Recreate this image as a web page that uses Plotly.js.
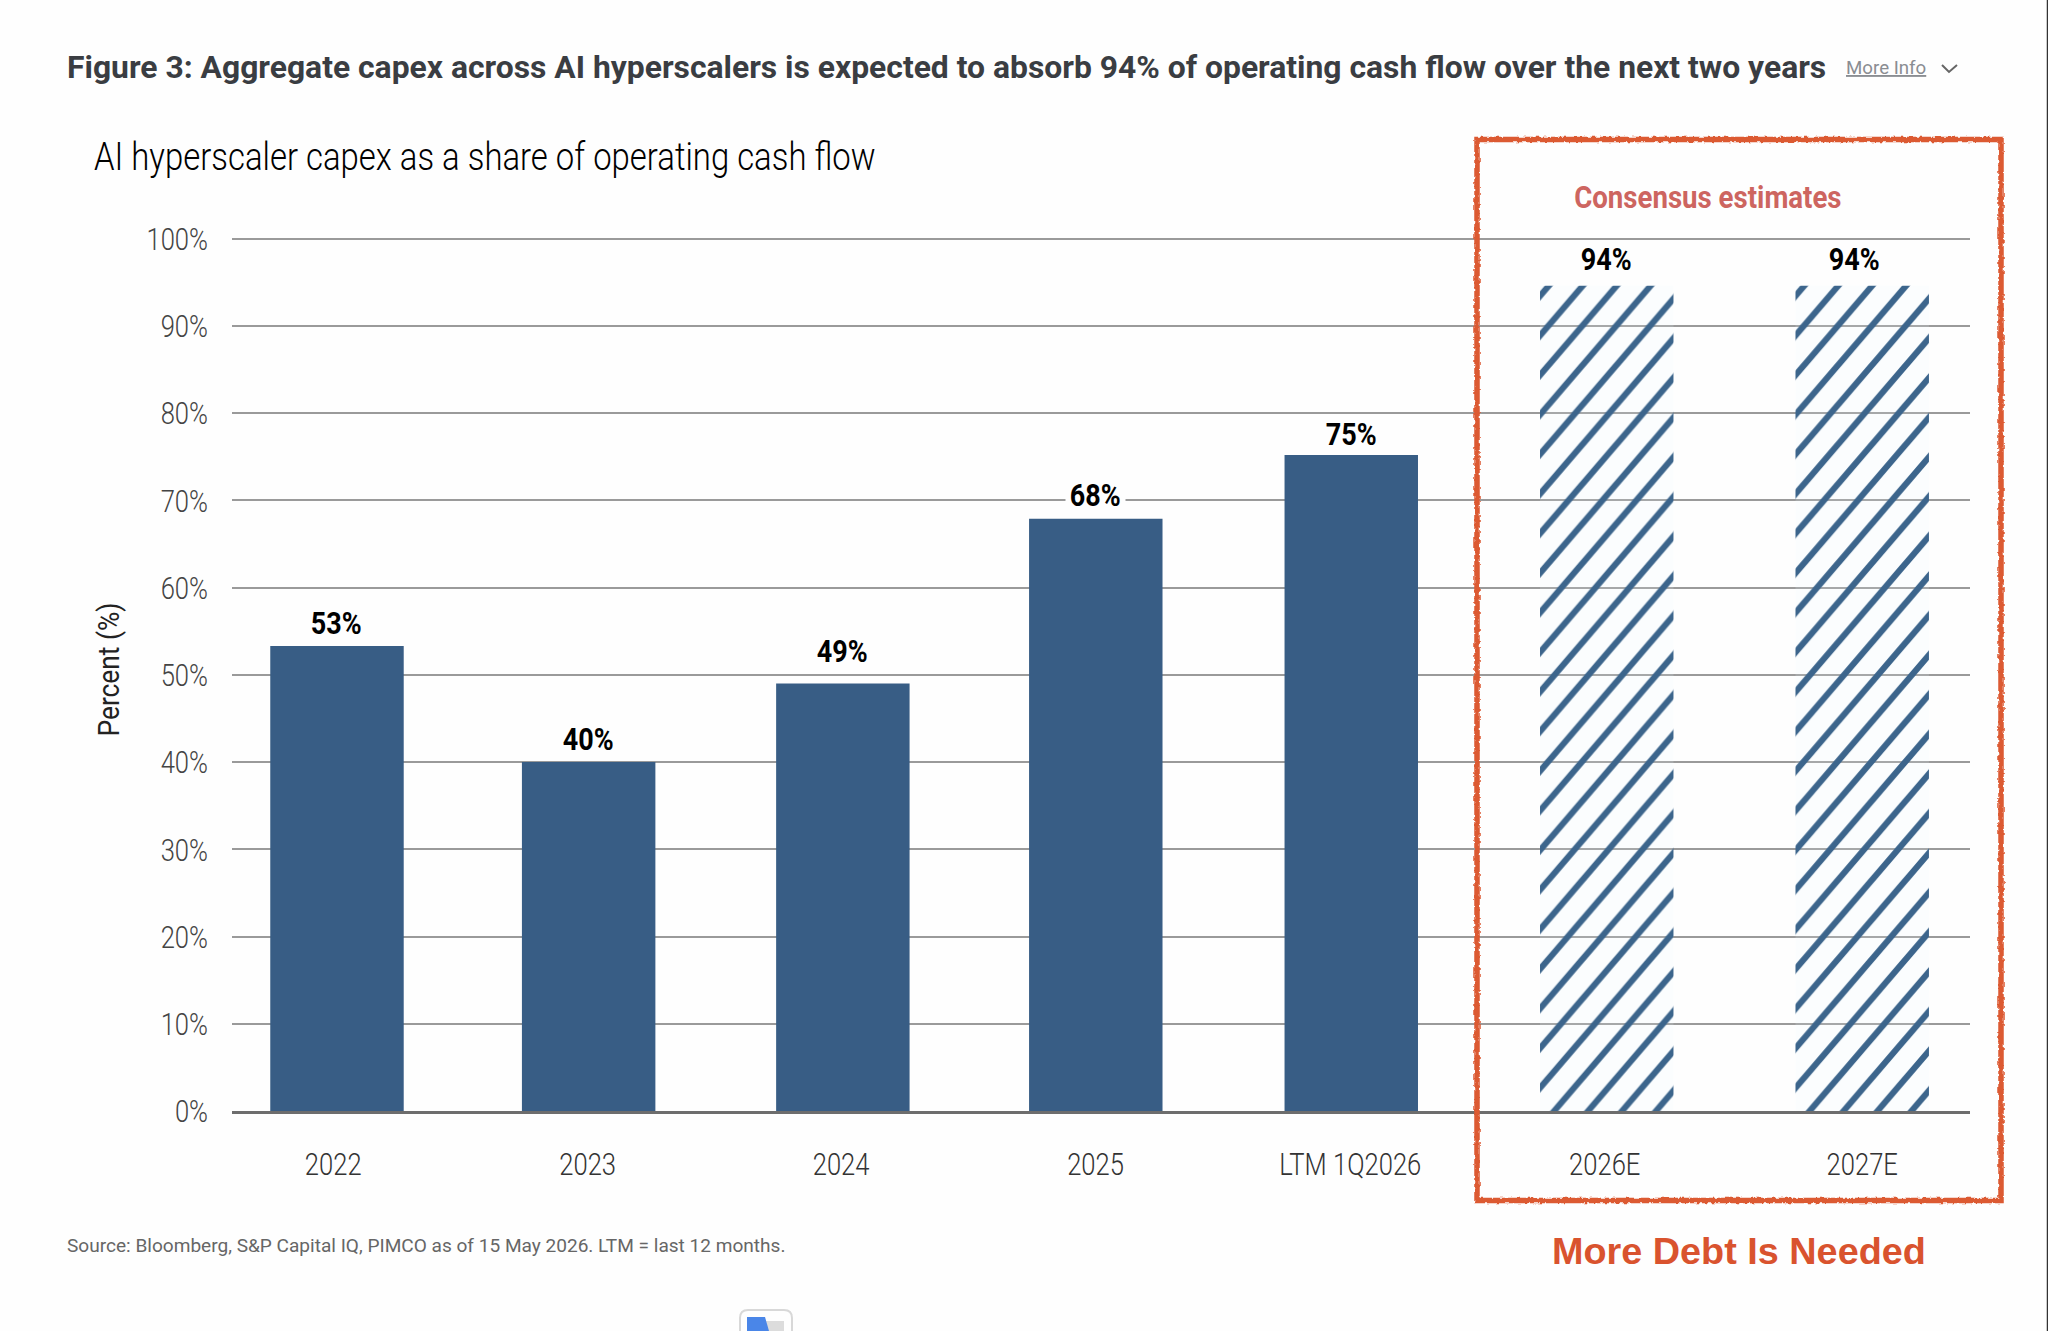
<!DOCTYPE html>
<html>
<head>
<meta charset="utf-8">
<script src="https://cdn.plot.ly/plotly-3.0.1.min.js"></script>
<style>
  html, body { margin: 0; padding: 0; background: #fefefe; }
</style>
</head>
<body>
<div id="chart" style="width:2048px;height:1331px"></div>
<script>
const categories = ['2022', '2023', '2024', '2025', 'LTM 1Q2026', '2026E', '2027E'];
const capexShare = [53.3, 40, 49, 67.9, 75.2, 94.6, 94.6];
const barLabels  = ['53%', '40%', '49%', '68%', '75%', '94%', '94%'];
const hatchShape = ['', '', '', '', '', '/', '/'];
const yTicks     = [0, 10, 20, 30, 40, 50, 60, 70, 80, 90, 100];
const yTickText  = ['0%', '10%', '20%', '30%', '40%', '50%', '60%', '70%', '80%', '90%', '100%'];

// the source slide is hand placed, so bars and labels are not quite evenly spaced
const barNudge    = [0, -0.01, -0.01, -0.015, -0.01, -0.005, 0];
const tickNudge   = [-0.015, -0.014, -0.017, -0.016, -0.014, -0.013, 0];
const labelShiftX = [0, 0, 0, 0, 0, 0, -8];
const labelShiftY = [3, 3, 13, 4, 1, 7, 7];

const W = 2048, H = 1331;
const plot = { l: 232, r: 1970, t: 237, b: 1111 };
const BAR_WIDTH = 0.525;

// page pixels -> paper coords, for everything outside the plot area
const px = x => (x - plot.l) / (plot.r - plot.l);
const py = y => (plot.b - y) / (plot.b - plot.t);

function note(x, y, text, font, anchor) {
  return {
    xref: 'paper', yref: 'paper', x: px(x), y: py(y),
    text, showarrow: false, xanchor: anchor || 'left', yanchor: 'middle',
    font: { family: 'Roboto', ...font },
  };
}

const barNotes = categories.map((c, i) => ({
  x: i + barNudge[i], y: capexShare[i], xref: 'x', yref: 'y',
  text: '<b>' + barLabels[i] + '</b>', showarrow: false,
  xshift: labelShiftX[i], yshift: labelShiftY[i], yanchor: 'bottom',
  font: { family: 'Roboto', size: 31, color: '#000' },
  bgcolor: '#fefefe', borderpad: 0,
}));

const trace = {
  type: 'bar',
  x: categories.map((c, i) => i),
  y: capexShare,
  width: BAR_WIDTH,
  offset: barNudge.map(n => n - BAR_WIDTH / 2),
  marker: {
    color: '#385d85',
    line: { width: 0 },
    pattern: {
      shape: hatchShape,
      size: 26,
      solidity: 0.24,
      fgcolor: '#3c658c',
      bgcolor: 'rgba(235,245,250,0.15)',
      fillmode: 'replace',
    },
  },
  hoverinfo: 'skip',
};

const layout = {
  width: W, height: H,
  paper_bgcolor: '#fefefe',
  plot_bgcolor: 'rgba(0,0,0,0)',
  showlegend: false,
  margin: { l: plot.l, r: W - plot.r, t: plot.t, b: H - plot.b, pad: 0 },
  font: { family: 'Roboto', color: '#444' },
  xaxis: {
    range: [-0.413, 6.424],
    tickvals: categories.map((c, i) => i + tickNudge[i]),
    ticktext: categories,
    tickfont: { family: 'Roboto', size: 32, weight: 300, color: '#333' },
    ticklabelstandoff: 23,
    ticks: '',
    showgrid: false,
    showline: true, linecolor: '#6d6d6d', linewidth: 3,
    zeroline: false,
  },
  yaxis: {
    range: [0, 100.2],
    tickvals: yTicks,
    ticktext: yTickText,
    tickfont: { family: 'Roboto', size: 32, weight: 300, color: '#444' },
    ticklabelstandoff: 23,
    ticks: '',
    gridcolor: '#9a9a9a', gridwidth: 2,
    zeroline: false,
    showline: false,
    title: { text: 'Percent (%)', font: { family: 'Roboto', size: 30, color: '#222' }, standoff: 2 },
  },
  shapes: [
    // red "consensus" box
    { type: 'rect', xref: 'paper', yref: 'paper', layer: 'above',
      x0: px(1477), x1: px(2001), y0: py(1200.5), y1: py(139.5),
      line: { color: '#dc5a33', width: 5.5 }, fillcolor: 'rgba(0,0,0,0)' },
    // More Info chevron
    { type: 'path', xref: 'paper', yref: 'paper',
      path: `M ${px(1942)} ${py(65)} L ${px(1949)} ${py(72)} L ${px(1957)} ${py(65)}`,
      line: { color: '#666', width: 2 } },
    // dark line at window edge
    { type: 'line', xref: 'paper', yref: 'paper',
      x0: px(2047.5), x1: px(2047.5), y0: py(0), y1: py(1331),
      line: { color: '#333', width: 1.5 } },
    // cropped translate icon at the bottom
    { type: 'path', xref: 'paper', yref: 'paper',
      path: `M ${px(740)} ${py(1331)} L ${px(740)} ${py(1318)} Q ${px(740)} ${py(1310)} ${px(748)} ${py(1310)} L ${px(784)} ${py(1310)} Q ${px(792)} ${py(1310)} ${px(792)} ${py(1318)} L ${px(792)} ${py(1331)}`,
      line: { color: '#d8d8d8', width: 2 }, fillcolor: '#fefefe' },
    { type: 'rect', xref: 'paper', yref: 'paper',
      x0: px(762), x1: px(784), y0: py(1331), y1: py(1321),
      line: { width: 0 }, fillcolor: '#dcdcdc' },
    { type: 'path', xref: 'paper', yref: 'paper',
      path: `M ${px(747)} ${py(1331)} L ${px(747)} ${py(1317)} L ${px(765)} ${py(1317)} L ${px(769)} ${py(1331)} Z`,
      line: { width: 0 }, fillcolor: '#4a86e8' },
  ],
  annotations: [
    ...barNotes,
    note(65, 67, '<b>Figure 3: Aggregate capex across AI hyperscalers is expected to absorb 94% of operating cash flow over the next two years</b>', { size: 31.85, color: '#3a3d42' }),
    note(1844, 68, '<u>More Info</u>', { size: 18.7, color: '#8a8d92' }),
    note(484.5, 157, 'AI hyperscaler capex as a share of operating cash flow', { size: 38, weight: 300, color: '#000' }, 'center'),
    note(1707.6, 197, '<b>Consensus estimates</b>', { size: 32, color: '#cd6560' }, 'center'),
    note(1549.5, 1251, '<b>More Debt Is Needed</b>', { family: 'Liberation Sans', size: 37.8, color: '#d9532e' }),
    note(65, 1245, 'Source: Bloomberg, S&amp;P Capital IQ, PIMCO as of 15 May 2026. LTM = last 12 months.', { size: 19.07, color: '#666' }),
  ],
};

// the source chart uses a condensed face that is not installed, so squeeze Roboto
function squeeze(el, factor) {
  el.setAttribute('textLength', el.getComputedTextLength() * factor);
  el.setAttribute('lengthAdjust', 'spacingAndGlyphs');
}

function condenseText(root) {
  root.querySelectorAll('.xtick text, .ytick text').forEach(t => squeeze(t, 0.8));
  const yTitle = root.querySelector('.ytitle');
  squeeze(yTitle, 0.878);
  yTitle.setAttribute('dx', 4.5);
  root.querySelectorAll('.annotation-text').forEach(t => {
    const s = t.textContent;
    if (s.startsWith('AI hyperscaler')) squeeze(t, 0.865);
    else if (s.startsWith('Consensus')) squeeze(t, 0.863);
    else if (barLabels.includes(s)) squeeze(t, 0.87);
  });
}

// stripes in the reference are a bit steeper than 45 degrees, and each bar starts its own phase
function alignHatch(root) {
  root.querySelectorAll('.point path').forEach((bar, i) => {
    if (!hatchShape[i]) return;
    const m = /url\("?#([^")]+)"?\)/.exec(bar.style.fill);
    const pat = m && document.getElementById(m[1]);
    if (!pat) return;
    const box = bar.getBBox();
    pat.setAttribute('patternTransform', `translate(${box.x + 8.7} ${box.y}) scale(${24 / 26} ${28 / 26})`);
  });
}

// rough pen edge on the red box
function roughenBox(root) {
  const svg = root.querySelector('svg.main-svg');
  const ns = 'http://www.w3.org/2000/svg';
  const f = document.createElementNS(ns, 'filter');
  f.id = 'roughEdge';
  f.setAttribute('x', '-5%'); f.setAttribute('y', '-5%');
  f.setAttribute('width', '110%'); f.setAttribute('height', '110%');
  f.innerHTML = '<feTurbulence type="fractalNoise" baseFrequency="0.25" numOctaves="2" seed="4" result="n"/>' +
    '<feDisplacementMap in="SourceGraphic" in2="n" scale="4"/>';
  svg.querySelector('defs').appendChild(f);
  const box = root.querySelector('.layer-above .shapelayer path');
  if (box) box.style.filter = 'url(#roughEdge)';
}

Plotly.newPlot('chart', [trace], layout, { displayModeBar: false, staticPlot: true }).then(gd => {
  condenseText(gd);
  alignHatch(gd);
  roughenBox(gd);
});
</script>
</body>
</html>
